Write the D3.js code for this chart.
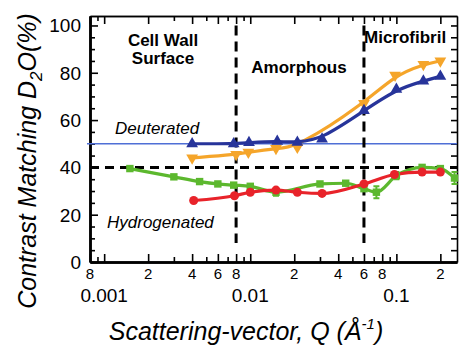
<!DOCTYPE html>
<html>
<head>
<meta charset="utf-8">
<script src="https://cdn.jsdelivr.net/npm/d3@7"></script>
<style>
  body { margin: 0; background: #fff; }
  svg { font-family: "Liberation Sans", Arial, sans-serif; }
  .axis path, .axis line { stroke: #000; }
</style>
</head>
<body>
<script>
// Deuterated (blue, up triangles)
var qBlue = [0.004, 0.0077, 0.0098, 0.0153, 0.021, 0.031, 0.06, 0.1, 0.153, 0.2];
var blueVals = [50, 50, 50.5, 51, 50.6, 52, 64, 73, 76.5, 78.5];

// Deuterated (orange, down triangles)
var qOrange = [0.004, 0.008, 0.0097, 0.015, 0.021, 0.06, 0.098, 0.153, 0.2];
var orangeVals = [44, 45.5, 46.4, 48, 48.5, 67, 79, 83.5, 85];

// Hydrogenated (green squares)
var qGreen = [0.0015, 0.003, 0.0045, 0.006, 0.0077, 0.01, 0.015, 0.03, 0.045, 0.06, 0.073, 0.1, 0.15, 0.2, 0.25];
var greenVals = [39.5, 36, 34, 33, 32.5, 32, 29.5, 33, 33.3, 31, 29.5, 36.5, 40, 39.5, 35.5];
var greenErr = [0, 0, 0, 0, 0, 0, 1.5, 0, 0, 0, 2.5, 1.5, 0, 0, 2.5];

// Hydrogenated (red circles)
var qRed = [0.0041, 0.0078, 0.01, 0.015, 0.021, 0.031, 0.06, 0.097, 0.15, 0.2];
var redVals = [26, 28, 29.5, 30.4, 29.5, 29, 33, 37, 38, 38];

// reference lines
var regionBounds = [0.008, 0.06];
var deuteratedLevel = 50;
var dashedLevel = 40;

// tick labels
var xLabelTicks = [0.0008, 0.002, 0.004, 0.006, 0.008, 0.02, 0.04, 0.06, 0.08, 0.2];
var xLabelText = ["8", "2", "4", "6", "8", "2", "4", "6", "8", "2"];
var xDecades = [0.001, 0.01, 0.1];
var xDecadeText = ["0.001", "0.01", "0.1"];
var yMajor = [0, 20, 40, 60, 80, 100];
var yMinor = [5, 10, 15, 25, 30, 35, 45, 50, 55, 65, 70, 75, 85, 90, 95];

var width = 460, height = 347;
var plotLeft = 90, plotRight = 457, plotTop = 16, plotBottom = 262;

var svg = d3.select("body").append("svg")
  .attr("width", width)
  .attr("height", height);

var x = d3.scaleLog().domain([0.0008, 0.26]).range([plotLeft, plotRight]);
var y = d3.scaleLinear().domain([0, 104]).range([plotBottom, plotTop]);

var xMinor = x.ticks().filter(function(d) {
  return xLabelTicks.indexOf(d) < 0 && xDecades.indexOf(d) < 0;
});
var xMajor = xLabelTicks.concat(xDecades);

// axes (ticks inward)
function addAxis(axis, tx, ty, cls) {
  svg.append("g")
    .attr("class", "axis " + cls)
    .attr("transform", "translate(" + tx + "," + ty + ")")
    .call(axis);
}
addAxis(d3.axisBottom(x).tickValues(xMinor).tickSize(-5).tickSizeOuter(0).tickFormat(""), 0, plotBottom, "xb");
addAxis(d3.axisBottom(x).tickValues(xMajor).tickSize(-8).tickSizeOuter(0).tickFormat(""), 0, plotBottom, "xb2");
addAxis(d3.axisTop(x).tickValues(xMinor).tickSize(-5).tickSizeOuter(0).tickFormat(""), 0, plotTop, "xt");
addAxis(d3.axisTop(x).tickValues(xMajor).tickSize(-8).tickSizeOuter(0).tickFormat(""), 0, plotTop, "xt2");
addAxis(d3.axisLeft(y).tickValues(yMinor).tickSize(-5).tickSizeOuter(0).tickFormat(""), plotLeft, 0, "yl");
addAxis(d3.axisLeft(y).tickValues(yMajor).tickSize(-8).tickSizeOuter(0).tickFormat(""), plotLeft, 0, "yl2");
addAxis(d3.axisRight(y).tickValues(yMinor.concat(yMajor)).tickSize(-6).tickSizeOuter(0).tickFormat(""), plotRight, 0, "yr");

svg.selectAll(".axis line").attr("stroke-width", 1.6);
svg.selectAll(".xb path, .xb2 path, .yl path, .yl2 path").attr("stroke-width", 2.5);
svg.selectAll(".xt path, .xt2 path, .yr path").attr("stroke-width", 1.6);

// tick labels
svg.selectAll(".ylab").data(yMajor).enter().append("text")
  .attr("x", plotLeft - 9)
  .attr("y", function(d) { return y(d) + 7; })
  .attr("text-anchor", "end")
  .attr("font-size", 19)
  .text(function(d) { return d; });

svg.selectAll(".xlab").data(xLabelTicks).enter().append("text")
  .attr("x", function(d) { return x(d); })
  .attr("y", 279)
  .attr("text-anchor", "middle")
  .attr("font-size", 15)
  .text(function(d, i) { return xLabelText[i]; });

svg.selectAll(".xdec").data(xDecades).enter().append("text")
  .attr("x", function(d) { return x(d); })
  .attr("y", 302)
  .attr("text-anchor", "middle")
  .attr("font-size", 19)
  .text(function(d, i) { return xDecadeText[i]; });

// reference lines
svg.append("line")
  .attr("x1", plotLeft - 3).attr("x2", plotRight)
  .attr("y1", y(deuteratedLevel)).attr("y2", y(deuteratedLevel))
  .attr("stroke", "#4f6fd6").attr("stroke-width", 1.3);

svg.append("line")
  .attr("x1", plotLeft).attr("x2", plotRight)
  .attr("y1", y(dashedLevel)).attr("y2", y(dashedLevel))
  .attr("stroke", "#000").attr("stroke-width", 3)
  .attr("stroke-dasharray", "9,6");

svg.selectAll(".vdash").data(regionBounds).enter().append("line")
  .attr("x1", function(d) { return x(d); }).attr("x2", function(d) { return x(d); })
  .attr("y1", y(100)).attr("y2", y(8))
  .attr("stroke", "#000").attr("stroke-width", 3)
  .attr("stroke-dasharray", "10,6");

// series
function series(qs, vals, color, curve) {
  var pts = qs.map(function(q, i) { return [q, vals[i]]; });
  var line = d3.line()
    .x(function(d) { return x(d[0]); })
    .y(function(d) { return y(d[1]); })
    .curve(curve);
  svg.append("path")
    .datum(pts)
    .attr("d", line)
    .attr("fill", "none")
    .attr("stroke", color)
    .attr("stroke-width", 3.2)
    .attr("stroke-linecap", "round");
  return pts;
}

var greenPts = series(qGreen, greenVals, "#5cb82e", d3.curveMonotoneX);
var redPts = series(qRed, redVals, "#e8232a", d3.curveMonotoneX);
var orangePts = series(qOrange, orangeVals, "#f5a52a", d3.curveBasis);
var bluePts = series(qBlue, blueVals, "#27349a", d3.curveBasis);

// green error bars
svg.selectAll(".err").data(greenPts.filter(function(d, i) { return greenErr[i] > 0; }))
  .enter().append("path")
  .attr("d", function(d) {
    var i = qGreen.indexOf(d[0]);
    var cx = x(d[0]), y1 = y(d[1] - greenErr[i]), y2 = y(d[1] + greenErr[i]);
    return "M" + (cx - 3) + "," + y1 + "H" + (cx + 3) +
      "M" + cx + "," + y1 + "V" + y2 +
      "M" + (cx - 3) + "," + y2 + "H" + (cx + 3);
  })
  .attr("stroke", "#5cb82e").attr("stroke-width", 2).attr("fill", "none");

// markers
svg.selectAll(".sq").data(greenPts).enter().append("path")
  .attr("transform", function(d) { return "translate(" + x(d[0]) + "," + y(d[1]) + ")"; })
  .attr("d", d3.symbol().type(d3.symbolSquare).size(55))
  .attr("fill", "#5cb82e");

svg.selectAll(".ci").data(redPts).enter().append("circle")
  .attr("cx", function(d) { return x(d[0]); })
  .attr("cy", function(d) { return y(d[1]); })
  .attr("r", 4.5)
  .attr("fill", "#e8232a");

svg.selectAll(".tri-o").data(orangePts).enter().append("path")
  .attr("transform", function(d) { return "translate(" + x(d[0]) + "," + y(d[1]) + ") rotate(180)"; })
  .attr("d", d3.symbol().type(d3.symbolTriangle).size(60))
  .attr("fill", "#f5a52a");

svg.selectAll(".tri-b").data(bluePts).enter().append("path")
  .attr("transform", function(d) { return "translate(" + x(d[0]) + "," + y(d[1]) + ")"; })
  .attr("d", d3.symbol().type(d3.symbolTriangle).size(60))
  .attr("fill", "#27349a");

// region labels
function label(txt, tx, ty, anchor, weight, style) {
  svg.append("text")
    .attr("x", tx).attr("y", ty)
    .attr("text-anchor", anchor)
    .attr("font-size", 17)
    .attr("font-weight", weight)
    .attr("font-style", style)
    .text(txt);
}
label("Cell Wall", 163, 46, "middle", "bold", "normal");
label("Surface", 163, 64, "middle", "bold", "normal");
label("Amorphous", 299, 73, "middle", "bold", "normal");
label("Microfibril", 364, 43, "start", "bold", "normal");
label("Deuterated", 115, 134, "start", "normal", "italic");
label("Hydrogenated", 107, 228, "start", "normal", "italic");

// axis titles
var yt = svg.append("text")
  .attr("transform", "translate(36," + 161 + ") rotate(-90)")
  .attr("text-anchor", "middle")
  .attr("font-size", 25)
  .attr("font-style", "italic");
yt.append("tspan").text("Contrast Matching D");
yt.append("tspan").attr("font-size", 17).attr("dy", 6).text("2");
yt.append("tspan").attr("dy", -6).text("O(%)");

var xt = svg.append("text")
  .attr("x", 246).attr("y", 340)
  .attr("text-anchor", "middle")
  .attr("font-size", 25)
  .attr("font-style", "italic");
xt.append("tspan").text("Scattering-vector, Q (Å");
xt.append("tspan").attr("font-size", 15).attr("dy", -11).text("-1");
xt.append("tspan").attr("dy", 11).text(")");
</script>
</body>
</html>
